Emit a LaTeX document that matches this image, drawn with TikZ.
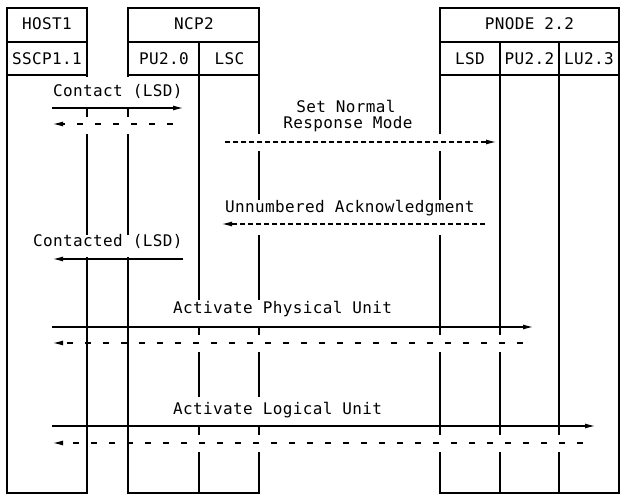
\documentclass[tikz,border=0pt]{standalone}
\usepackage{fontspec}
\newfontfamily\mono[LetterSpace=2.3]{DejaVu Sans Mono}
\usetikzlibrary{arrows.meta}
\tikzset{
  frame/.style={line width=1.1pt},
  lbl/.style={font=\mono\fontsize{16}{16}\selectfont, inner sep=0pt},
  msg/.style={line width=1.1pt, -{Latex[length=10pt,width=5pt]}},
  ret/.style={msg, dash pattern=on 6pt off 12pt},
  fine/.style={msg, dash pattern=on 5pt off 3pt},
  mask/.style={fill=white},
}
\begin{document}
\begin{tikzpicture}[x=1pt,y=-1pt]
\useasboundingbox (0,0) rectangle (622,500);
% ---- boxes
\draw[frame] (7,8) rectangle (87,493) (7,42) -- (87,42) (7,75) -- (87,75);
\draw[frame] (128,8) rectangle (259,493) (128,42) -- (259,42) (128,75) -- (259,75) (199,42) -- (199,493);
\draw[frame] (440,8) rectangle (619,493) (440,42) -- (619,42) (440,75) -- (619,75) (500,42) -- (500,493) (559,42) -- (559,493);
% ---- gaps in the lines
\fill[mask] (50,77) rectangle (186,107);
\fill[mask] (50,117) rectangle (186,134);
\fill[mask] (220,134) rectangle (470,151);
\fill[mask] (220,200) rectangle (480,235);
\fill[mask] (30,235) rectangle (186,257);
\fill[mask] (170,300) rectangle (400,326);
\fill[mask] (150,335) rectangle (530,352);
\fill[mask] (170,397) rectangle (390,425);
\fill[mask] (150,435) rectangle (590,452);
% ---- headers
\node[lbl, anchor=base] (host) at (47,30) {HOST1};
\node[lbl, anchor=base] (sscp) at (47,65) {SSCP1.1};
\node[lbl, anchor=base] (ncp) at (194,30) {NCP2};
\node[lbl, anchor=base] (pu20) at (164,65) {PU2.0};
\node[lbl, anchor=base] (lsc) at (229.5,65) {LSC};
\node[lbl, anchor=base] (pnode) at (529.5,30) {PNODE 2.2};
\node[lbl, anchor=base] (lsd) at (470,65) {LSD};
\node[lbl, anchor=base] (pu22) at (529.5,65) {PU2.2};
\node[lbl, anchor=base] (lu23) at (589,65) {LU2.3};
% ---- end points
\coordinate (a1) at (52,108);  \coordinate (b1) at (183,108);
\coordinate (a2) at (173,124); \coordinate (b2) at (53,124);
\coordinate (a3) at (225,142); \coordinate (b3) at (496,142);
\coordinate (a4) at (485,224); \coordinate (b4) at (222,224);
\coordinate (a5) at (183,259); \coordinate (b5) at (53,259);
\coordinate (a6) at (52,327);  \coordinate (b6) at (533,327);
\coordinate (a7) at (523,343); \coordinate (b7) at (53,343);
\coordinate (a8) at (52,426);  \coordinate (b8) at (595,426);
\coordinate (a9) at (583,443); \coordinate (b9) at (53,443);
% ---- messages
\draw[msg] (a1) -- (b1);
\draw[ret] (a2) -- (b2);
\draw[fine] (a3) -- (b3);
\draw[fine] (a4) -- (b4);
\draw[msg] (a5) -- (b5);
\draw[msg] (a6) -- (b6);
\draw[ret] (a7) -- (b7);
\draw[msg] (a8) -- (b8);
\draw[ret] (a9) -- (b9);
% ---- labels
\node[lbl, anchor=base west] (t1) at (53,97) {Contact (LSD)};
\node[lbl, anchor=base] (t2) at (346,113) {Set Normal};
\node[lbl, anchor=base] (t3) at (348,129) {Response Mode};
\node[lbl, anchor=base west] (t4) at (225,213) {Unnumbered Acknowledgment};
\node[lbl, anchor=base west] (t5) at (33,247) {Contacted (LSD)};
\node[lbl, anchor=base west] (t6) at (173,313) {Activate Physical Unit};
\node[lbl, anchor=base west] (t7) at (173,414) {Activate Logical Unit};
\end{tikzpicture}
\end{document}
